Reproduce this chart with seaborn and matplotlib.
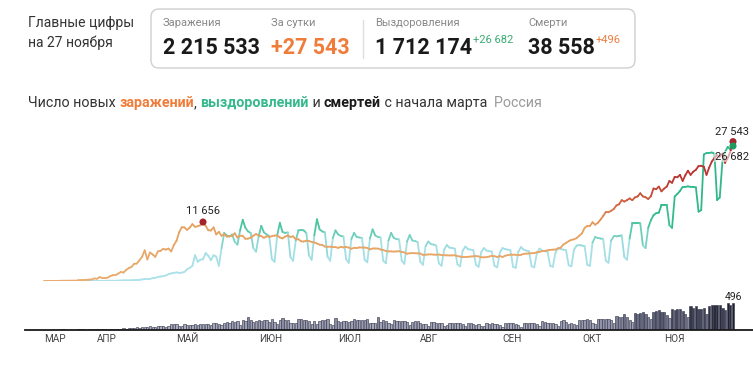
import numpy as np
import pandas as pd
import matplotlib
matplotlib.use('Agg')
import matplotlib.pyplot as plt
import seaborn as sns
from matplotlib.collections import LineCollection
from matplotlib.colors import LinearSegmentedColormap, Normalize
from matplotlib.patches import FancyBboxPatch

# daily series, starting 12 March 2020
start_date = '2020-03-12'

cases = [
    # mar 12-31
    6, 11, 14, 4, 29, 21, 33, 52, 54, 53, 61, 71, 57, 163, 182, 196, 228, 270, 302, 501,
    # apr
    440, 771, 601, 582, 658, 954, 1154, 1175, 1459, 1786,
    1667, 2186, 2558, 2774, 3388, 3448, 4070, 4785, 6060, 4268,
    5642, 5236, 4774, 5849, 5966, 6361, 6198, 6411, 5841, 7099,
    # may
    7933, 9623, 10633, 10581, 10102, 10559, 11231, 10699, 10817, 11012,
    11656, 10899, 10028, 9974, 10598, 9200, 9709, 8926, 9263, 8764,
    8849, 8894, 9434, 8599, 8946, 8915, 8338, 8371, 8572, 8952, 9268,
    # jun
    9035, 8863, 8536, 8831, 8726, 8855, 8984, 8985, 8595, 8404,
    8779, 8987, 8706, 8835, 8246, 8248, 7843, 7790, 7972, 7889,
    7728, 7600, 7425, 7176, 7113, 6800, 6760, 6791, 6719, 6693,
    # jul
    6556, 6760, 6632, 6736, 6611, 6368, 6562, 6509, 6635, 6615,
    6611, 6537, 6248, 6422, 6428, 6406, 6234, 6109, 5940, 5842,
    5862, 5811, 5848, 5871, 5765, 5635, 5395, 5475, 5509, 5482, 5462,
    # aug
    5427, 5159, 5204, 5241, 5267, 5212, 5189, 5241, 5118, 5102,
    5065, 5057, 5061, 5083, 4919, 4839, 4718, 4748, 4767, 4838,
    4870, 4921, 4852, 4696, 4676, 4711, 4829, 4980, 4897, 4729, 4952,
    # sep
    4729, 4995, 5110, 5205, 5195, 5185, 5099, 5172, 5363, 5406,
    5449, 5488, 5509, 5670, 5762, 5905, 5944, 6065, 6148, 6196,
    6215, 6431, 6595, 7212, 7523, 7867, 8135, 8232, 8481, 8945,
    # oct
    9412, 10499, 10888, 10888, 11615, 11115, 11493, 12126, 12846, 13634,
    13592, 13868, 14231, 14922, 15150, 15982, 15700, 15982, 16319, 15971,
    16521, 16706, 17340, 16710, 16550, 16202, 16741, 18283, 18140, 18665, 17717,
    # nov 1-27
    18257, 18648, 19768, 19404, 20582, 20498, 20977, 19768, 20893, 21798,
    20977, 21608, 21983, 22702, 22778, 22572, 20977, 22410, 23610, 24318,
    24822, 24581, 25173, 23351, 24326, 25487, 27543,
]

recovered = [
    0, 2, 0, 0,                                   # mar 12-15
    0, 3, 3, 0, 6, 3, 5,                          # weeks from mon 16 mar
    2, 5, 8, 8, 10, 12, 13,
    25, 16, 22, 18, 22, 30, 49,
    58, 40, 53, 73, 100, 120, 150,
    120, 160, 190, 180, 230, 290, 400,
    350, 420, 560, 620, 800, 870, 960,
    1100, 1350, 1500, 1600, 1700, 1600, 1650,
    1800, 2300, 2600, 3000, 5100, 3800, 4200,
    4300, 5500, 5000, 4100, 5100, 4800, 3000,
    6500, 9500, 9000, 8800, 9200, 7700, 7200,
    10000, 12100, 10500, 9800, 9500, 6500, 5800,
    8800, 10900, 9600, 9200, 8900, 4300, 3800,
    9000, 11500, 9700, 9500, 9600, 4700, 4000,
    8000, 10000, 10100, 10000, 9500, 5000, 4200,
    9000, 12200, 10200, 9800, 9600, 4800, 4000,
    8500, 10000, 9200, 8900, 8800, 4300, 3600,
    8300, 9500, 8700, 8600, 8500, 4200, 3700,
    8400, 10200, 9000, 8700, 8600, 4000, 3500,
    8000, 9500, 8500, 8300, 8200, 4000, 3400,
    7800, 9100, 8000, 7900, 7700, 3800, 3200,
    6900, 7800, 7300, 7200, 7000, 3500, 3000,
    6200, 7100, 6600, 6500, 6400, 3300, 2900,
    6000, 6800, 6300, 6200, 6100, 3200, 2800,
    5700, 6500, 6000, 5900, 5800, 3000, 2700,
    5600, 6500, 6300, 6200, 6100, 2800, 2600,
    5800, 6700, 6200, 6000, 5900, 2900, 2700,
    5500, 6400, 6000, 5900, 5800, 3000, 2800,
    5600, 6500, 6300, 6200, 6100, 3100, 2900,
    6200, 7000, 7100, 7000, 6900, 3200, 3000,
    7600, 8700, 8500, 8400, 8300, 4000, 3600,
    8000, 8800, 8800, 8900, 9000, 4700, 4200,
    8400, 11400, 11400, 11500, 11400, 7000, 6500,
    10500, 12000, 13000, 13400, 13500, 15000, 15000,
    15000, 11000, 10500, 16700, 17200, 17800, 18600,
    18600, 18700, 18600, 18600, 18500, 13700, 14000,
    25000, 25300, 25300, 25400, 25200, 16000, 16500,
    23600, 25500, 26500, 26000, 26682,            # nov 23-27
]

deaths = [
    # mar 12-31
    0, 0, 0, 0, 0, 0, 0, 1, 0, 0, 0, 0, 0, 1, 1, 1, 0, 4, 1, 8,
    # apr
    2, 4, 4, 9, 2, 11, 2, 13, 18, 12,
    22, 18, 24, 22, 28, 41, 36, 48, 42, 51,
    57, 50, 42, 60, 66, 72, 47, 58, 108, 101,
    # may
    96, 57, 58, 95, 76, 86, 88, 98, 88, 94,
    107, 96, 107, 93, 113, 119, 94, 91, 115, 135,
    127, 150, 139, 153, 92, 174, 161, 232, 181, 138, 162,
    # jun
    182, 162, 178, 169, 144, 197, 134, 112, 171, 216,
    174, 181, 119, 114, 113, 194, 193, 181, 182, 161,
    109, 153, 95, 154, 176, 186, 188, 104, 92, 216,
    # jul
    154, 147, 168, 154, 135, 168, 198, 173, 174, 178,
    186, 188, 130, 117, 119, 232, 141, 186, 150, 130,
    95, 171, 161, 164, 166, 165, 135, 85, 147, 161, 150,
    # aug
    129, 104, 95, 70, 147, 144, 129, 124, 119, 70,
    77, 130, 129, 122, 116, 114, 94, 70, 114, 121,
    107, 93, 95, 68, 60, 122, 110, 118, 102, 111, 87,
    # sep
    48, 117, 123, 123, 114, 112, 86, 56, 119, 124,
    125, 122, 119, 110, 64, 150, 141, 116, 125, 122,
    110, 67, 160, 169, 149, 108, 116, 109, 85, 171,
    # oct
    177, 186, 201, 186, 117, 111, 198, 201, 197, 191,
    202, 176, 124, 244, 232, 232, 286, 232, 184, 147,
    317, 286, 317, 320, 283, 229, 203, 320, 346, 366, 334,
    # nov 1-27
    320, 270, 218, 389, 368, 385, 378, 349, 286, 229,
    432, 411, 439, 387, 391, 395, 294, 442, 456, 463,
    467, 465, 401, 361, 491, 463, 496,
]

month_starts = ['2020-03-12', '2020-04-01', '2020-05-01', '2020-06-01', '2020-07-01',
                '2020-08-01', '2020-09-01', '2020-10-01', '2020-11-01']
month_labels = ['МАР', 'АПР', 'МАЙ', 'ИЮН', 'ИЮЛ', 'АВГ', 'СЕН', 'ОКТ', 'НОЯ']

header_titles = ['Заражения', 'За сутки', 'Выздоровления', 'Смерти']
header_values = ['2 215 533', '+27 543', '1 712 174', '38 558']
header_deltas = ['', '', '+26 682', '+496']

# put everything in one frame, x = days since 1 march
df = pd.DataFrame({'date': pd.date_range(start_date, periods=len(cases)),
                   'cases': cases, 'recovered': recovered, 'deaths': deaths})
origin = pd.Timestamp('2020-03-01')
df['day'] = (df['date'] - origin).dt.days

sns.set_theme(style='white')
plt.rcParams['font.family'] = ['Roboto', 'DejaVu Sans']

W, H = 753, 370
fig = plt.figure(figsize=(W / 100, H / 100), dpi=100)

# pixel overlay for the header texts
ov = fig.add_axes([0, 0, 1, 1])
ov.set_xlim(0, W)
ov.set_ylim(H, 0)
ov.axis('off')

def fbox(x0, y0, x1, y1):
    return [x0 / W, 1 - y1 / H, (x1 - x0) / W, (y1 - y0) / H]

# x scale: day 0 at 14.85px, 2.65px per day
day_px0, px_day = 14.85, 2.65
xlim = ((25 - day_px0) / px_day, (W - day_px0) / px_day)

# lines panel, 0 at y=281px, 5.06px per 1000
ax = fig.add_axes(fbox(25, 125, W, 281))
ax.set_xlim(*xlim)
ax.set_ylim(0, (281 - 125) / 5.06 * 1000)
ax.axis('off')

# deaths panel, 496 -> 26.5px
axb = fig.add_axes(fbox(25, 293, W, 329.5))
axb.set_xlim(*xlim)
axb.set_ylim(0, 496 * 36.5 / 26.5)


def grad_line(a, x, y, cmap, norm, lw=1.3):
    pts = np.column_stack([x, y]).astype(float)
    segs = np.stack([pts[:-1], pts[1:]], axis=1)
    lc = LineCollection(segs, cmap=cmap, norm=norm, linewidth=lw,
                        capstyle='round', joinstyle='round')
    lc.set_array((np.asarray(y[:-1], float) + np.asarray(y[1:], float)) / 2)
    a.add_collection(lc)


rec_cmap = LinearSegmentedColormap.from_list(
    'rec', [(0, '#ade2ea'), (0.45, '#a4dfe6'), (0.75, '#50c6a4'), (1, '#30b88c')])
case_cmap = LinearSegmentedColormap.from_list(
    'cases', [(0, '#e9ac70'), (0.55, '#e5a15f'), (0.78, '#d0613f'), (1, '#bb3530')])

grad_line(ax, df['day'].values, df['recovered'].values, rec_cmap, Normalize(0, 14000))
grad_line(ax, df['day'].values, df['cases'].values, case_cmap, Normalize(0, 20000))

# marked points
spring = df[df['date'] < '2020-07-01']
peak = spring.loc[spring['cases'].idxmax()]
last = df.iloc[-1]
fmt = lambda v: f'{int(v):,}'.replace(',', ' ')

sns.scatterplot(x=[peak['day'], last['day']], y=[peak['cases'], last['cases']],
                color='#a3262c', s=26, edgecolor='none', ax=ax, zorder=6, legend=False)
sns.scatterplot(x=[last['day']], y=[last['recovered']],
                color='#1f9a5e', s=26, edgecolor='none', ax=ax, zorder=6, legend=False)

ax.annotate(fmt(peak['cases']), (peak['day'], peak['cases']), xytext=(0, 4),
            textcoords='offset points', ha='center', va='bottom', fontsize=8, color='#222')
ax.annotate(fmt(last['cases']), (last['day'], last['cases']), xytext=(-1, 3),
            textcoords='offset points', ha='center', va='bottom', fontsize=8, color='#222')
ax.annotate(fmt(last['recovered']), (last['day'], last['recovered']), xytext=(-1, -4),
            textcoords='offset points', ha='center', va='top', fontsize=8, color='#222',
            bbox=dict(boxstyle='square,pad=0.05', fc='white', ec='none', alpha=0.55))

# deaths bars
death_cmap = LinearSegmentedColormap.from_list(
    'deaths', [(0, '#b9bbcc'), (0.35, '#9c9eb4'), (0.7, '#50526a'), (1, '#1e1f2c')])
bar_colors = death_cmap(Normalize(0, 500)(df['deaths'].values))
axb.bar(df['day'], df['deaths'], width=0.85, color=bar_colors,
        edgecolor='#3c3e52', linewidth=0.45)
axb.annotate(fmt(last['deaths']), (last['day'], last['deaths']), xytext=(0, 1),
             textcoords='offset points', ha='center', va='bottom', fontsize=7.5, color='#222')

for s in ['top', 'right', 'left']:
    axb.spines[s].set_visible(False)
axb.spines['bottom'].set_color('#1a1a1a')
axb.spines['bottom'].set_linewidth(1.3)
axb.set_yticks([])
tick_days = [(pd.Timestamp(d) - origin).days for d in month_starts]
axb.set_xticks(tick_days)
axb.set_xticklabels(month_labels, fontsize=7.2, color='#444', ha='left')
axb.tick_params(axis='x', length=0, pad=3)
axb.grid(False)

# header
ov.text(28, 27, 'Главные цифры', fontsize=10, color='#333', va='baseline')
ov.text(28, 47, 'на 27 ноября', fontsize=10, color='#333', va='baseline')
ov.add_patch(FancyBboxPatch((151, 9), 484, 59, boxstyle='round,pad=0,rounding_size=8',
                            fc='none', ec='#cfcfcf', lw=1))
ov.plot([363, 363], [20, 58], color='#dddddd', lw=1)

col_x = [163, 271, 375, 528]
value_colors = ['#1a1a1a', '#f07c3a', '#1a1a1a', '#1a1a1a']
delta_colors = ['', '', '#3aab72', '#f07c3a']
r = fig.canvas.get_renderer()
for cx, t, v, d, vc, dc in zip(col_x, header_titles, header_values, header_deltas,
                               value_colors, delta_colors):
    ov.text(cx, 26, t, fontsize=8, color='#888', va='baseline')
    vt = ov.text(cx, 54.5, v, fontsize=15.5, fontweight='bold', color=vc, va='baseline')
    if d:
        bb = vt.get_window_extent(r).transformed(ov.transData.inverted())
        ov.text(bb.x1 + 1, 43, d, fontsize=8, color=dc, va='baseline')

# title built from coloured pieces
title_parts = [('Число новых ', '#333', 'normal'), ('заражений', '#f07c3a', 'bold'),
               (', ', '#333', 'normal'), ('выздоровлений', '#36b98c', 'bold'),
               (' и ', '#333', 'normal'), ('смертей', '#1a1a1a', 'bold'),
               (' с начала марта', '#333', 'normal'), ('  Россия', '#9a9a9a', 'normal')]
tx = 28
for part, c, w in title_parts:
    t = ov.text(tx, 107, part, fontsize=10.3, color=c, fontweight=w, va='baseline')
    bb = t.get_window_extent(r).transformed(ov.transData.inverted())
    tx = bb.x1

fig.savefig('out.png', dpi=100)
